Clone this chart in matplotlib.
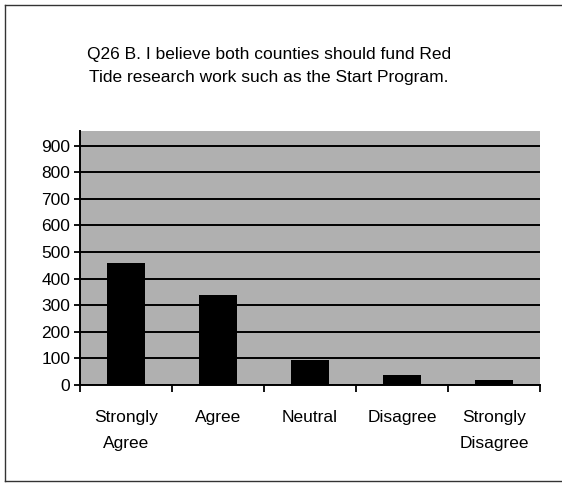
import numpy as np
import matplotlib.pyplot as plt
from matplotlib.lines import Line2D

categories = ["Strongly\nAgree", "Agree", "Neutral", "Disagree", "Strongly\nDisagree"]
responses = [459, 340, 93, 36, 19]
yticks = [0, 100, 200, 300, 400, 500, 600, 700, 800, 900]
title = "Q26 B. I believe both counties should fund Red\nTide research work such as the Start Program."

plt.rcParams['font.family'] = ['Liberation Sans', 'DejaVu Sans']

fig = plt.figure(figsize=(5.62, 4.83), dpi=100)
fig.patch.set_facecolor("white")

# outer chart frame (right side is cut off in the scan)
fl, fr, fb, ft = 5 / 562, 1.0, 1 - 481 / 483, 1 - 5 / 483
for xs, ys in [([fl, fr], [ft, ft]), ([fl, fl], [fb, ft]), ([fl, fr], [fb, fb])]:
    fig.lines.append(Line2D(xs, ys, transform=fig.transFigure, color="#333333", linewidth=1.0))

fig.text(269 / 562, 1 - 66 / 483, title, ha="center", va="center", fontsize=12.5, linespacing=1.65)

ax = fig.add_axes([80 / 562, 1 - 385 / 483, 460 / 562, 254 / 483])
ax.set_facecolor("#b0b0b0")

x = np.arange(len(categories))
ax.bar(x, responses, width=0.42, color="black", zorder=3)

ax.set_xlim(-0.5, len(categories) - 0.5)
ax.set_ylim(0, 955)
ax.set_yticks(yticks)
ax.set_yticklabels([str(v) for v in yticks], fontsize=12.5)
ax.yaxis.grid(True, color="black", linewidth=1.4, zorder=1)
ax.set_axisbelow(True)

ax.set_xticks(np.arange(-0.5, len(categories), 1.0))
ax.set_xticklabels([])
ax.set_xticks(x, minor=True)
ax.set_xticklabels(categories, minor=True, fontsize=12.5, linespacing=1.95)
ax.tick_params(axis="x", which="minor", length=0, pad=18)
ax.tick_params(axis="x", which="major", length=5, width=1.3, color="black")
ax.tick_params(axis="y", length=4, width=1.3, pad=3)

for side in ["top", "right"]:
    ax.spines[side].set_visible(False)
ax.spines["left"].set_linewidth(1.4)
ax.spines["bottom"].set_linewidth(1.4)

fig.savefig("out.png", dpi=100)
